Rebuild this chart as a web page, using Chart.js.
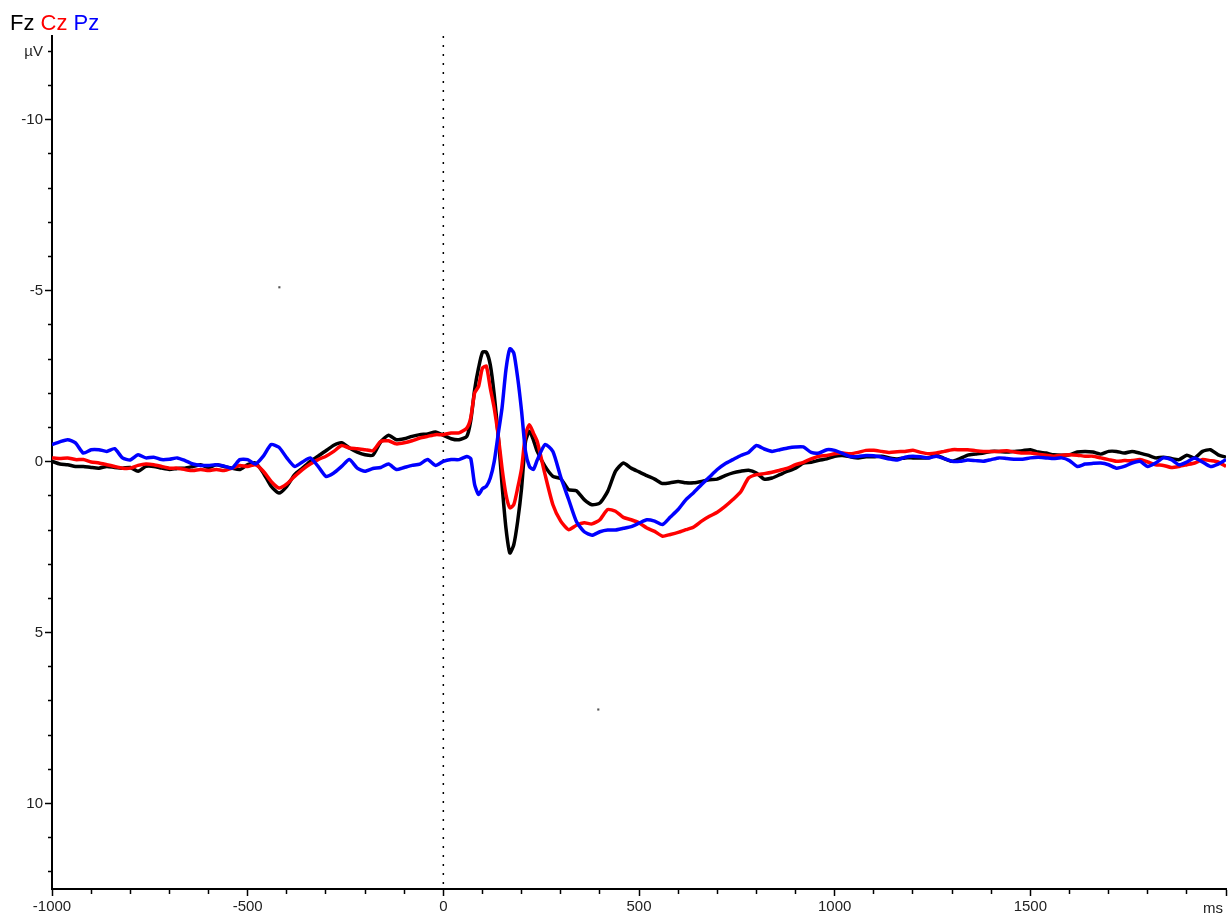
<!DOCTYPE html>
<html>
<head>
<meta charset="utf-8">
<script src="https://cdn.jsdelivr.net/npm/chart.js@4.4.1/dist/chart.umd.min.js"></script>
<style>
  body { margin: 0; background: #fff; }
  #wrap { position: relative; width: 1232px; height: 920px; font-family: "Liberation Sans", Arial, sans-serif; }
  #erp { display: block; }
  #legend { position: absolute; left: 10px; top: 12px; font-size: 22px; line-height: 22px; white-space: nowrap; }
  #unitX { position: absolute; left: 1203px; top: 900px; font-size: 15px; line-height: 15px; color: #222; }
</style>
</head>
<body>
<div id="wrap">
  <canvas id="erp" width="1232" height="920"></canvas>
  <div id="legend"><span style="color:#000">Fz</span> <span style="color:#f00">Cz</span> <span style="color:#00f">Pz</span></div>
  <div id="unitX">ms</div>
</div>
<script>
// time in ms (finer steps around the early components)
const times = [
  -1000,-980,-960,-940,-920,-900,-880,-860,-840,-820,
  -800,-780,-760,-740,-720,-700,-680,-660,-640,-620,
  -600,-580,-560,-540,-520,-500,-480,-460,-440,-420,
  -400,-380,-360,-340,-320,-300,-280,-260,-240,-220,
  -200,-180,-160,-140,-120,-100,-80,-60,-40,-20,
  0,20,40,60,70,80,90,100,110,120,
  130,140,150,160,170,180,190,200,210,220,
  230,240,260,280,300,320,340,360,380,400,
  420,440,460,480,500,520,540,560,580,600,
  620,640,660,680,700,720,740,760,780,800,
  820,840,860,880,900,920,940,960,980,1000,
  1020,1040,1060,1080,1100,1120,1140,1160,1180,1200,
  1220,1240,1260,1280,1300,1320,1340,1360,1380,1400,
  1420,1440,1460,1480,1500,1520,1540,1560,1580,1600,
  1620,1640,1660,1680,1700,1720,1740,1760,1780,1800,
  1820,1840,1860,1880,1900,1920,1940,1960,1980,2000
];

// µV, negative plotted upward
const fz = [
  -0.01,0.07,0.09,0.14,0.14,0.17,0.19,0.14,0.17,0.19,
  0.17,0.28,0.14,0.14,0.19,0.23,0.20,0.19,0.14,0.09,
  0.17,0.09,0.14,0.19,0.23,0.09,0.04,0.33,0.72,0.92,
  0.72,0.38,0.19,-0.01,-0.16,-0.32,-0.48,-0.55,-0.40,-0.28,
  -0.20,-0.19,-0.58,-0.77,-0.64,-0.67,-0.74,-0.79,-0.81,-0.87,
  -0.77,-0.67,-0.64,-0.74,-1.20,-2.10,-2.74,-3.20,-3.20,-2.83,
  -1.96,-0.79,0.67,1.94,2.67,2.43,1.74,0.77,-0.59,-0.89,
  -0.64,-0.30,0.14,0.43,0.50,0.82,0.85,1.11,1.26,1.21,
  0.87,0.28,0.04,0.19,0.30,0.41,0.51,0.64,0.62,0.58,
  0.62,0.62,0.58,0.53,0.51,0.41,0.33,0.28,0.25,0.33,
  0.51,0.48,0.38,0.28,0.19,0.04,0.02,-0.04,-0.08,-0.16,
  -0.18,-0.14,-0.11,-0.14,-0.14,-0.16,-0.11,-0.08,-0.11,-0.11,
  -0.11,-0.11,-0.19,-0.09,-0.01,-0.09,-0.19,-0.22,-0.25,-0.30,
  -0.30,-0.28,-0.30,-0.32,-0.35,-0.28,-0.25,-0.20,-0.19,-0.20,
  -0.28,-0.30,-0.28,-0.22,-0.30,-0.30,-0.25,-0.30,-0.25,-0.19,
  -0.11,-0.13,-0.09,-0.06,-0.19,-0.11,-0.30,-0.35,-0.20,-0.13
];

const cz = [
  -0.11,-0.09,-0.11,-0.06,-0.06,0.01,0.04,0.09,0.14,0.19,
  0.19,0.11,0.07,0.09,0.14,0.19,0.19,0.23,0.26,0.23,
  0.26,0.23,0.26,0.19,0.11,0.14,0.09,0.28,0.58,0.77,
  0.65,0.43,0.23,0.07,-0.06,-0.16,-0.30,-0.47,-0.40,-0.38,
  -0.35,-0.32,-0.59,-0.61,-0.52,-0.55,-0.61,-0.69,-0.74,-0.79,
  -0.79,-0.84,-0.84,-0.98,-1.28,-2.01,-2.20,-2.74,-2.79,-2.15,
  -1.57,-0.79,0.19,0.96,1.35,1.26,0.77,0.19,-0.79,-1.08,
  -0.84,-0.59,0.38,1.26,1.74,1.99,1.86,1.79,1.82,1.70,
  1.40,1.45,1.63,1.70,1.79,1.94,2.04,2.18,2.13,2.07,
  1.99,1.91,1.74,1.60,1.48,1.31,1.11,0.88,0.48,0.38,
  0.35,0.31,0.25,0.19,0.09,0.02,-0.08,-0.16,-0.18,-0.23,
  -0.25,-0.23,-0.27,-0.33,-0.33,-0.30,-0.27,-0.29,-0.30,-0.33,
  -0.27,-0.23,-0.25,-0.30,-0.35,-0.35,-0.35,-0.32,-0.30,-0.30,
  -0.30,-0.32,-0.28,-0.25,-0.25,-0.22,-0.19,-0.16,-0.19,-0.20,
  -0.19,-0.16,-0.16,-0.11,-0.06,-0.01,-0.03,-0.03,-0.06,0.01,
  0.09,0.11,0.17,0.14,0.09,0.04,-0.06,-0.03,0.01,0.14
];

const pz = [
  -0.50,-0.58,-0.64,-0.55,-0.25,-0.35,-0.35,-0.30,-0.38,-0.11,
  -0.05,-0.20,-0.11,-0.13,-0.06,-0.07,-0.11,-0.03,0.07,0.11,
  0.11,0.09,0.13,0.19,-0.06,-0.06,0.07,-0.16,-0.50,-0.42,
  -0.11,0.14,0.01,-0.11,0.14,0.43,0.33,0.14,-0.06,0.19,
  0.28,0.20,0.17,0.07,0.23,0.17,0.11,0.07,-0.06,0.11,
  -0.01,-0.06,-0.06,-0.15,-0.09,0.67,0.96,0.79,0.72,0.48,
  0.00,-0.79,-1.57,-2.69,-3.30,-3.18,-2.45,-1.47,-0.30,0.14,
  0.23,-0.05,-0.50,-0.30,0.45,1.10,1.75,2.05,2.15,2.05,
  2.00,2.00,1.95,1.90,1.80,1.70,1.74,1.84,1.62,1.40,
  1.11,0.90,0.67,0.45,0.23,0.06,-0.06,-0.18,-0.27,-0.47,
  -0.37,-0.30,-0.35,-0.40,-0.43,-0.43,-0.27,-0.25,-0.35,-0.33,
  -0.24,-0.15,-0.15,-0.18,-0.17,-0.13,-0.08,-0.05,-0.13,-0.16,
  -0.14,-0.11,-0.16,-0.09,-0.01,-0.01,-0.05,-0.03,-0.01,-0.06,
  -0.11,-0.09,-0.07,-0.07,-0.11,-0.13,-0.11,-0.09,-0.11,-0.03,
  0.14,0.07,0.05,0.04,0.09,0.19,0.14,0.04,-0.01,0.14,
  0.04,-0.11,-0.06,0.09,0.01,-0.11,0.01,0.14,0.07,-0.06
];

// two stray marker dots
const markT = [-419, 396];
const markV = [-5.1, 7.25];

// stimulus onset line
const onsetT = [0, 0];
const onsetV = [-12.45, 12.5];

const isStep = (v, s) => Math.abs(v / s - Math.round(v / s)) < 1e-6;

const wave = (label, vals, color, order) => ({
  label,
  data: times.map((t, i) => ({ x: t, y: vals[i] })),
  borderColor: color,
  borderWidth: 3.5,
  pointRadius: 0,
  tension: 0.2,
  fill: false,
  order
});

const tickFont = { family: '"Liberation Sans", Arial, sans-serif', size: 15 };

new Chart(document.getElementById('erp'), {
  type: 'line',
  data: {
    datasets: [
      wave('Fz', fz, '#000000', 3),
      wave('Cz', cz, '#ff0000', 2),
      wave('Pz', pz, '#0000ff', 1),
      {
        label: 'onset',
        data: onsetT.map((t, i) => ({ x: t, y: onsetV[i] })),
        borderColor: '#000',
        borderWidth: 1.5,
        borderDash: [2, 7],
        pointRadius: 0,
        order: 5
      },
      {
        label: 'marks',
        data: markT.map((t, i) => ({ x: t, y: markV[i] })),
        showLine: false,
        pointStyle: 'rect',
        pointRadius: 1.5,
        borderWidth: 0,
        backgroundColor: '#555',
        order: 0
      }
    ]
  },
  options: {
    responsive: false,
    animation: false,
    devicePixelRatio: 1,
    layout: { padding: { top: 36, right: 6, left: 0, bottom: 0 } },
    plugins: { legend: { display: false }, tooltip: { enabled: false } },
    scales: {
      x: {
        type: 'linear',
        min: -1000,
        max: 2000,
        border: { display: true, color: '#000', width: 2 },
        grid: {
          drawOnChartArea: false,
          tickLength: 7,
          tickWidth: 1.5,
          tickColor: '#000',
          tickBorderDash: ctx => (ctx.tick && isStep(ctx.tick.value, 500)) ? [] : [4, 50]
        },
        ticks: {
          stepSize: 100,
          autoSkip: false,
          maxRotation: 0,
          padding: 2,
          color: '#222',
          font: tickFont,
          callback: v => (isStep(v, 500) && v !== 2000) ? String(v) : ''
        },
        afterFit: s => { s.height = 31; }
      },
      y: {
        type: 'linear',
        reverse: true,
        min: -12.45,
        max: 12.5,
        border: { display: true, color: '#000', width: 2 },
        grid: {
          drawOnChartArea: false,
          tickLength: 7,
          tickWidth: 1.5,
          tickColor: ctx => (ctx.tick && isStep(ctx.tick.value, 1)) ? '#000' : 'rgba(0,0,0,0)',
          tickBorderDash: ctx => (ctx.tick && isStep(ctx.tick.value, 5)) ? [] : [0, 3, 4, 50]
        },
        ticks: {
          stepSize: 1,
          includeBounds: false,
          autoSkip: false,
          padding: 2,
          color: '#222',
          font: tickFont,
          callback: v => Math.abs(v + 12) < 1e-6 ? 'µV' : (isStep(v, 5) ? String(Math.round(v)) : '')
        },
        afterFit: s => { s.width = 52; }
      }
    }
  }
});
</script>
</body>
</html>
